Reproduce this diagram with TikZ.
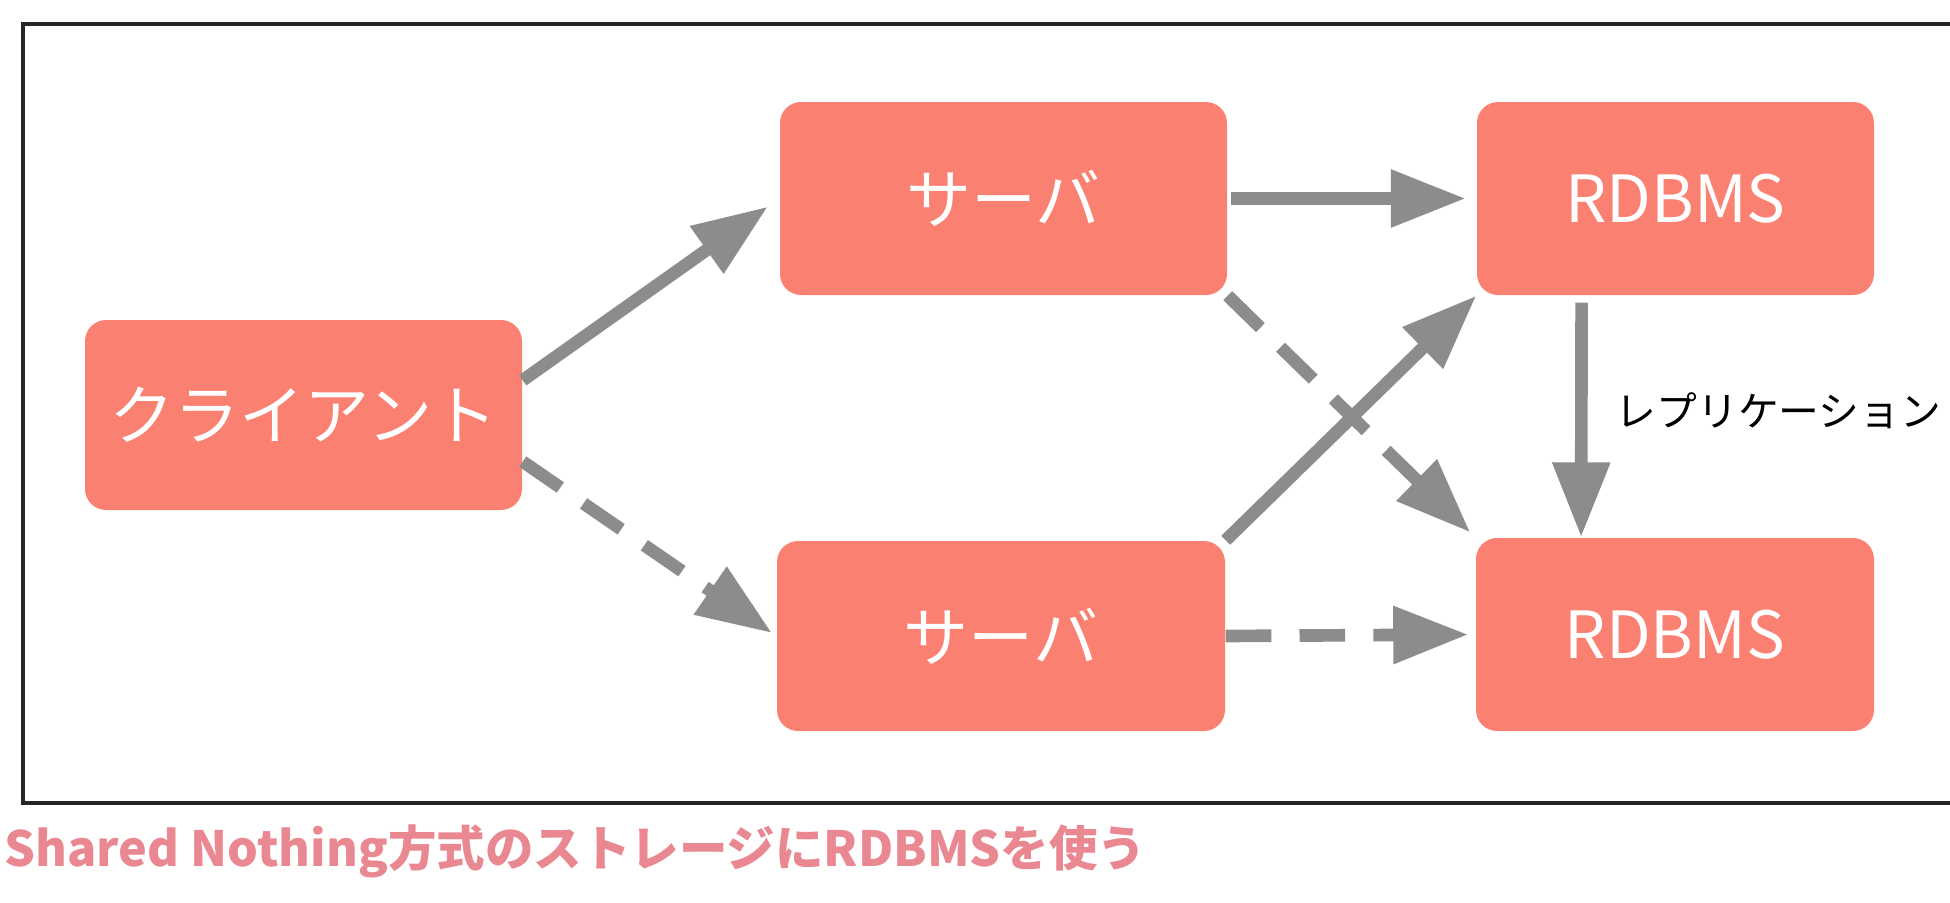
\documentclass[tikz,border=0pt]{standalone}
\usepackage{fontspec}
\setmainfont{Noto Sans CJK JP}
\usepackage{xcolor}
\usetikzlibrary{arrows.meta,positioning}
\definecolor{boxsalmon}{RGB}{250,128,114}
\definecolor{arrowgray}{RGB}{140,140,140}
\definecolor{captionpink}{RGB}{234,136,146}

\begin{document}
\begin{tikzpicture}[>={Triangle[length=0.75cm, width=0.55cm]},
    unit/.style={fill=boxsalmon, rounded corners=6pt, text=white, inner sep=0pt,
        font=\fontsize{18.5}{22}\selectfont},
    flow/.style={->, arrowgray, line width=3.6pt},
    flowdash/.style={flow, dash pattern=on 13pt off 8pt}]
\useasboundingbox (0,0) rectangle (19.5,9.02);

% frame, open on the right
\draw[line width=1pt, black!85] (19.5,8.78) -- (0.23,8.78) -- (0.23,0.99) -- (19.5,0.99);

% client, servers, databases
\node[unit, minimum width=4.37cm, minimum height=1.90cm] (client) at (3.035,4.87) {クライアント};
\node[unit, minimum width=4.47cm, minimum height=1.93cm] (srvA) at (10.035,7.035) {サーバ};
\node[unit, minimum width=4.48cm, minimum height=1.90cm] (srvB) at (10.01,2.66) {サーバ};
\node[unit, minimum width=3.97cm, minimum height=1.93cm] (dbA) at (16.755,7.035) {RDBMS};
\node[unit, minimum width=3.98cm, minimum height=1.93cm] (dbB) at (16.75,2.675) {RDBMS};

% requests
\draw[flow, shorten >=4pt] (client.9) -- (srvA.west);
\draw[flowdash, shorten >=1.5pt] (client.-12) -- (srvB.west);

% servers to databases
\draw[flow, shorten <=1pt, shorten >=3pt] (srvA.east) -- (dbA.west);
\draw[flowdash, shorten >=2pt] (srvA.south east) -- (dbB.north west);
\draw[flow] (srvB.north east) -- (dbA.south west);
\draw[flowdash, shorten >=2pt] (srvB.east) -- (dbB.west);

% replication
\draw[flow, shorten <=2pt] (dbA.-134) -- (dbB.134)
    node[midway, right=0.28cm, yshift=0.06cm, inner sep=0pt, text=black, font=\fontsize{11.6}{14}\selectfont]{レプリケーション};

% caption
\node[anchor=west, inner sep=0pt, text=captionpink, font=\bfseries\fontsize{13.8}{17}\selectfont]
    (caption) at (0.04,0.51) {Shared Nothing方式のストレージにRDBMSを使う};
\end{tikzpicture}
\end{document}
